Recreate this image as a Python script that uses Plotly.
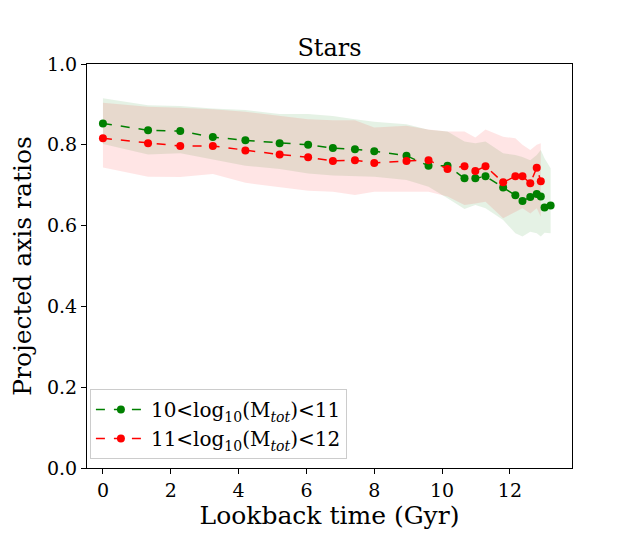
import plotly.graph_objects as go

# lookback times (Gyr)
t_green = [0.0, 1.33, 2.28, 3.24, 4.20, 5.21, 6.05, 6.78, 7.43, 8.0, 8.95, 9.6,
           10.16, 10.66, 10.98, 11.28, 11.8, 12.16, 12.37, 12.6, 12.79, 12.91, 13.02, 13.2]
t_red = t_green[:22]

# 10 < log10(Mtot) < 11
q_green = [0.853, 0.836, 0.834, 0.819, 0.811, 0.804, 0.800, 0.792, 0.789, 0.784, 0.773, 0.748,
           0.748, 0.717, 0.717, 0.722, 0.694, 0.675, 0.661, 0.671, 0.678, 0.672, 0.645, 0.650]
hi_green = [0.915, 0.898, 0.896, 0.890, 0.886, 0.876, 0.876, 0.871, 0.863, 0.857, 0.851, 0.837,
            0.833, 0.808, 0.804, 0.808, 0.779, 0.775, 0.770, 0.762, 0.775, 0.787, 0.767, 0.742]
lo_green = [0.802, 0.776, 0.779, 0.764, 0.748, 0.740, 0.729, 0.724, 0.723, 0.721, 0.713, 0.696,
            0.668, 0.641, 0.651, 0.643, 0.614, 0.581, 0.573, 0.585, 0.581, 0.573, 0.582, 0.581]

# 11 < log10(Mtot) < 12
q_red = [0.816, 0.804, 0.797, 0.797, 0.786, 0.776, 0.769, 0.760, 0.762, 0.755, 0.760, 0.762,
         0.740, 0.747, 0.735, 0.747, 0.707, 0.722, 0.722, 0.705, 0.743, 0.710]
hi_red = [0.904, 0.894, 0.892, 0.888, 0.882, 0.871, 0.863, 0.861, 0.861, 0.843, 0.847, 0.838,
          0.833, 0.833, 0.818, 0.838, 0.820, 0.816, 0.800, 0.787, 0.800, 0.804]
lo_red = [0.744, 0.721, 0.720, 0.728, 0.706, 0.696, 0.686, 0.684, 0.676, 0.684, 0.684, 0.684,
          0.672, 0.651, 0.655, 0.659, 0.618, 0.634, 0.643, 0.630, 0.643, 0.622]

serif = "DejaVu Serif"

fig = go.Figure()

def add_band(t, lo, hi, fillcolor):
    fig.add_trace(go.Scatter(x=t, y=lo, mode="lines", line=dict(width=0),
                             showlegend=False, hoverinfo="skip"))
    fig.add_trace(go.Scatter(x=t, y=hi, mode="lines", line=dict(width=0),
                             fill="tonexty", fillcolor=fillcolor,
                             showlegend=False, hoverinfo="skip"))

add_band(t_green, lo_green, hi_green, "rgba(0,128,0,0.1)")
add_band(t_red, lo_red, hi_red, "rgba(255,0,0,0.1)")

fig.add_trace(go.Scatter(x=t_green, y=q_green, mode="lines+markers",
                         name="10&lt;log<sub>10</sub>(M<sub><i>tot</i></sub>)&lt;11",
                         line=dict(color="green", dash="dash", width=1.5),
                         marker=dict(color="green", size=8)))
fig.add_trace(go.Scatter(x=t_red, y=q_red, mode="lines+markers",
                         name="11&lt;log<sub>10</sub>(M<sub><i>tot</i></sub>)&lt;12",
                         line=dict(color="red", dash="dash", width=1.5),
                         marker=dict(color="red", size=8)))

axis_common = dict(showline=True, linecolor="black", linewidth=1, mirror=True,
                   ticks="outside", ticklen=5, tickcolor="black", showgrid=False,
                   zeroline=False, automargin=False,
                   tickfont=dict(family=serif, size=19, color="black"))

# the page body adds an 8px offset, so margins are shifted to compensate
fig.update_layout(
    width=627, height=528,
    paper_bgcolor="white", plot_bgcolor="white",
    margin=dict(l=79, r=63, t=56, b=68),
    title=dict(text="Stars", x=0.5, xref="paper", xanchor="center",
               y=1, yref="paper", yanchor="bottom", pad=dict(b=8),
               font=dict(family=serif, size=24, color="black")),
    xaxis=dict(range=[-0.47, 13.83], tickvals=[0, 2, 4, 6, 8, 10, 12],
               title=dict(text="Lookback time (Gyr)", standoff=0,
                          font=dict(family=serif, size=25, color="black")),
               **axis_common),
    yaxis=dict(range=[0, 1], tickvals=[0, 0.2, 0.4, 0.6, 0.8, 1.0], tickformat=".1f",
               title=dict(text="Projected axis ratios", standoff=10,
                          font=dict(family=serif, size=25, color="black")),
               **axis_common),
    legend=dict(x=0.006, y=0.022, xanchor="left", yanchor="bottom",
                traceorder="normal", itemwidth=50,
                bgcolor="rgba(255,255,255,0.8)", bordercolor="#cccccc", borderwidth=1,
                font=dict(family=serif, size=20, color="black"), tracegroupgap=6),
    showlegend=True,
)

fig.write_html("out.html")
